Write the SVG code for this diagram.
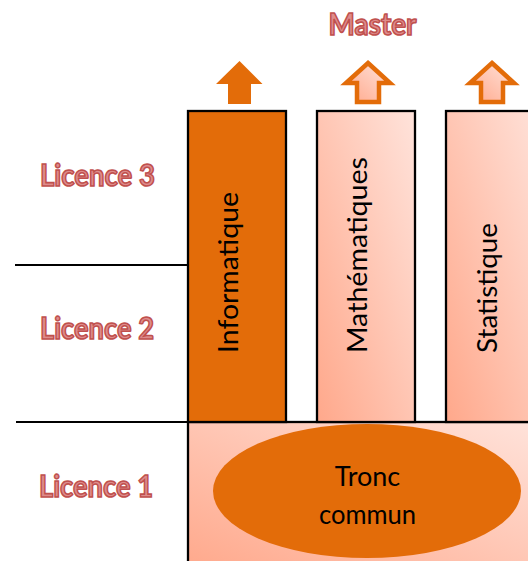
<svg xmlns="http://www.w3.org/2000/svg" width="528" height="561" viewBox="0 0 528 561">
<defs>
<linearGradient id="pink" x1="0" y1="1" x2="1" y2="0">
<stop offset="0" stop-color="#FFA88B"/>
<stop offset="1" stop-color="#FFE3DB"/>
</linearGradient>
<linearGradient id="pinkB" x1="0" y1="1" x2="1" y2="0">
<stop offset="0" stop-color="#FFA88B"/>
<stop offset="1" stop-color="#FFE3DB"/>
</linearGradient>
<style>
.lvl{font-family:Lato,"Liberation Sans",sans-serif;font-weight:bold;font-size:30px;fill:#DE8C8C;stroke:#C0504D;stroke-width:1.6px}
.lbl{font-family:Lato,"Liberation Sans",sans-serif;font-size:27px;fill:#000}
.edge{stroke:#000;stroke-width:2;fill:none}
.box{stroke:#000;stroke-width:2.3}
.orange{fill:#E36C09}
.hollow{fill:url(#pink);stroke:#E36C09;stroke-width:4.5;stroke-linejoin:miter}
</style>
</defs>
<text class="lvl" x="372.5" y="35" text-anchor="middle" textLength="88" lengthAdjust="spacingAndGlyphs">Master</text>
<text class="lvl" x="40" y="186" textLength="115" lengthAdjust="spacingAndGlyphs">Licence 3</text>
<text class="lvl" x="40" y="339" textLength="114" lengthAdjust="spacingAndGlyphs">Licence 2</text>
<text class="lvl" x="39" y="497" textLength="114" lengthAdjust="spacingAndGlyphs">Licence 1</text>
<g id="connectors">
<line class="edge" x1="15" y1="265" x2="188" y2="265"/>
<line class="edge" x1="16" y1="422" x2="528" y2="422"/>
</g>
<g id="tronc">
<rect class="box" x="188" y="422" width="350" height="150" fill="url(#pinkB)"/>
<ellipse class="orange" cx="367" cy="491" rx="154" ry="67"/>
<text class="lbl" x="367.5" y="486" text-anchor="middle">Tronc</text>
<text class="lbl" x="367.5" y="524" text-anchor="middle" textLength="97" lengthAdjust="spacingAndGlyphs">commun</text>
</g>
<g id="informatique">
<polygon class="orange" points="239.5,61 262.5,84 251,84 251,104 228,104 228,84 216,84"/>
<rect class="box orange" x="188" y="111" width="98" height="311"/>
<text class="lbl" transform="translate(238,353) rotate(-90)" textLength="161" lengthAdjust="spacingAndGlyphs">Informatique</text>
</g>
<g id="mathematiques">
<polygon class="hollow" points="368,63 390,83 379,83 379,102 357,102 357,83 346,83"/>
<rect class="box" x="317" y="111" width="98" height="311" fill="url(#pink)"/>
<text class="lbl" transform="translate(367,353) rotate(-90)" textLength="196" lengthAdjust="spacingAndGlyphs">Mathématiques</text>
</g>
<g id="statistique">
<polygon class="hollow" points="492,63 514,83 503,83 503,102 481,102 481,83 470,83"/>
<rect class="box" x="446" y="111" width="98" height="311" fill="url(#pink)"/>
<text class="lbl" transform="translate(497,353) rotate(-90)" textLength="130" lengthAdjust="spacingAndGlyphs">Statistique</text>
</g>
</svg>
